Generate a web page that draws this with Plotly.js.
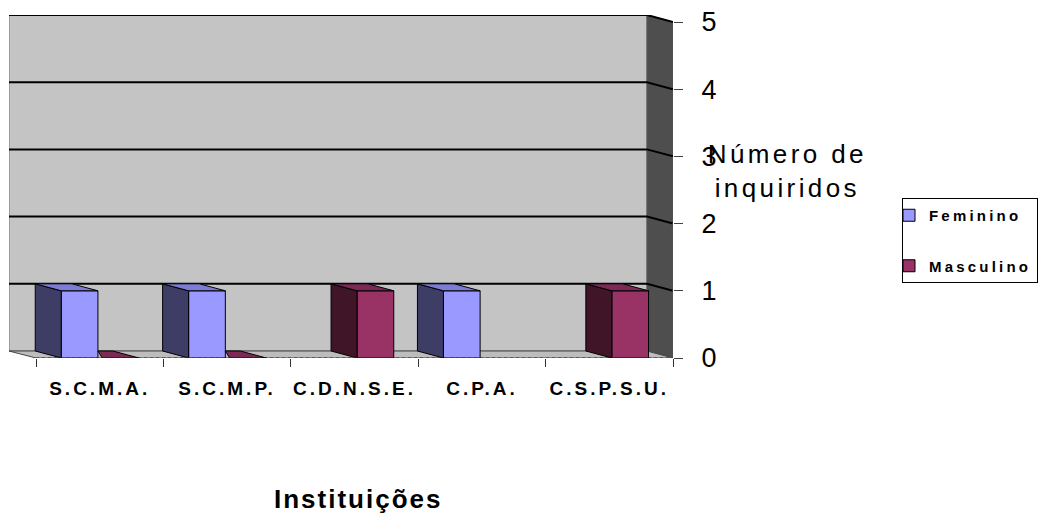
<!DOCTYPE html>
<html>
<head>
<meta charset="utf-8">
<script src="https://cdn.plot.ly/plotly-3.0.1.min.js"></script>
<style>
  html, body { margin: 0; padding: 0; background: #fff; }
  #chart { width: 1038px; height: 517px; }
  .xtick text { letter-spacing: 3px; }
  .legendtext { letter-spacing: 3.2px; }
  .annotation[data-index="0"] text { letter-spacing: 3.4px; }
  .annotation[data-index="1"] text { letter-spacing: 2px; }
</style>
</head>
<body>
<div id="chart"></div>
<script>
// ---- data ----
const categories = ['S.C.M.A.', 'S.C.M.P.', 'C.D.N.S.E.', 'C.P.A.', 'C.S.P.S.U.'];
const feminino  = [1, 1, null, 1, null];
const masculino = [0, 0, 1, null, 1];
const yTickVals = [0, 1, 2, 3, 4, 5];
const seriesNames = ['Feminino', 'Masculino'];

// ---- geometry (3D look) ----
const DX = -26 / 127.4;   // depth shift in x units
const DY = 7 / 67.2;      // depth shift in y units
const XMIN = -0.5 + DX - 0.008, XMAX = 4.5;
const YMAX = 5 + DY;
const BAR_W = 0.288;
const femOffset = -0.302, mascOffset = 0.02;

const FONT = 'Liberation Sans, Arial, sans-serif';
const xIdx = categories.map((c, i) => i);

function faces(vals, offset, clipVals, clipOffset) {
  const side = {x: [], y: []}, top = {x: [], y: []};
  vals.forEach((v, i) => {
    if (v === null) return;
    const x0 = i + offset, x1 = x0 + BAR_W;
    if (v > 0) {
      side.x.push(x0 + DX, x0 + DX, x0, x0, x0 + DX, null);
      side.y.push(DY, v + DY, v, 0, DY, null);
    }
    let xs = [x0 + DX, x1 + DX, x1, x0, x0 + DX];
    if (clipVals && clipVals[i] !== null) {
      const lim = i + clipOffset + BAR_W;
      xs = xs.map(x => Math.max(x, lim));
    }
    top.x.push(...xs, null);
    top.y.push(v + DY, v + DY, v, v, v + DY, null);
  });
  return {side, top};
}

const mascF = faces(masculino, mascOffset, feminino, femOffset);
const femF = faces(feminino, femOffset, null, 0);

function poly(f, color) {
  return {x: f.x, y: f.y, type: 'scatter', mode: 'lines', fill: 'toself',
          fillcolor: color, line: {color: '#000', width: 1}, hoverinfo: 'skip',
          showlegend: false};
}

const traces = [
  {type: 'bar', name: seriesNames[0], x: xIdx, y: feminino, offset: femOffset, width: BAR_W,
   marker: {color: '#9999FF', line: {color: '#000', width: 1}}, legendgroup: 'f'},
  {type: 'bar', name: seriesNames[1], x: xIdx, y: masculino, offset: mascOffset, width: BAR_W,
   marker: {color: '#993366', line: {color: '#000', width: 1}}, legendgroup: 'm'},
  poly(mascF.side, '#411528'),
  poly(mascF.top, '#7A2A55'),
  poly(femF.side, '#3D3D66'),
  poly(femF.top, '#7C7CD6')
];

// walls, floor, gridlines
const shapes = [];
const bx0 = XMIN, bx1 = XMAX + DX;
shapes.push({type: 'rect', xref: 'x', yref: 'y', x0: bx0, x1: bx1, y0: DY, y1: YMAX,
  fillcolor: '#C4C4C4', line: {color: '#777', width: 1}, layer: 'below'});
shapes.push({type: 'path', xref: 'x', yref: 'y', layer: 'below',
  path: `M${bx1},${DY} L${XMAX},0 L${XMAX},5 L${bx1},${YMAX} Z`,
  fillcolor: '#4E4E4E', line: {color: '#555', width: 1}});
shapes.push({type: 'path', xref: 'x', yref: 'y', layer: 'below',
  path: `M${bx0},${DY} L${bx1},${DY} L${XMAX},0 L${-0.5},0 Z`,
  fillcolor: '#BDBDBD', line: {color: '#444', width: 1}});
yTickVals.forEach(t => {
  if (t === 0) return;
  shapes.push({type: 'path', xref: 'x', yref: 'y', layer: 'below',
    path: `M${bx0},${t + DY} L${bx1},${t + DY} L${XMAX},${t}`,
    line: {color: '#000', width: 2}});
});
// front axis lines
shapes.push({type: 'line', xref: 'x', yref: 'y', x0: XMAX, x1: XMAX, y0: 0, y1: 5,
  line: {color: '#555', width: 1, dash: 'dot'}});
shapes.push({type: 'line', xref: 'x', yref: 'y', x0: -0.5, x1: XMAX, y0: 0, y1: 0,
  line: {color: '#333', width: 1, dash: 'dot'}});

const layout = {
  width: 1038, height: 517,
  margin: {l: 9, r: 365, t: 15, b: 159},
  paper_bgcolor: '#fff', plot_bgcolor: 'rgba(0,0,0,0)',
  barmode: 'overlay',
  showlegend: true,
  font: {family: FONT, color: '#000'},
  xaxis: {range: [XMIN, XMAX], tickvals: xIdx, ticktext: categories, ticks: '',
          showgrid: false, zeroline: false, showline: false,
          tickfont: {size: 19, weight: 'bold', family: FONT},
          ticklabelstandoff: 17,
          minor: {tick0: -0.5, dtick: 1, ticks: 'outside', ticklen: 8, tickcolor: '#333', showgrid: false}},
  yaxis: {range: [0, YMAX], side: 'right', tickvals: yTickVals, ticks: 'outside', ticklen: 9,
          tickcolor: '#444', showgrid: false, zeroline: false, showline: false,
          tickfont: {size: 27, family: FONT}, ticklabelstandoff: 13},
  legend: {xref: 'container', yref: 'container', x: 902 / 1038, y: 1 - 198 / 517,
           xanchor: 'left', yanchor: 'top', bordercolor: '#000', borderwidth: 1,
           bgcolor: '#fff', font: {size: 15, weight: 'bold', family: FONT},
           indentation: -14,
           tracegroupgap: 28, traceorder: 'grouped'},
  shapes: shapes,
  annotations: [
    {xref: 'paper', yref: 'paper', x: (787 - 9) / 664, y: (358 - 171) / 343,
     text: 'Número de<br>inquiridos', showarrow: false, xanchor: 'center', yanchor: 'middle',
     font: {size: 26, family: FONT}},
    {xref: 'paper', yref: 'paper', x: (358 - 9) / 664, y: (358 - 499) / 343,
     text: 'Instituições', showarrow: false, xanchor: 'center', yanchor: 'middle',
     font: {size: 26, weight: 'bold', family: FONT}}
  ]
};

Plotly.newPlot('chart', traces, layout, {displayModeBar: false, staticPlot: true});
</script>
</body>
</html>
